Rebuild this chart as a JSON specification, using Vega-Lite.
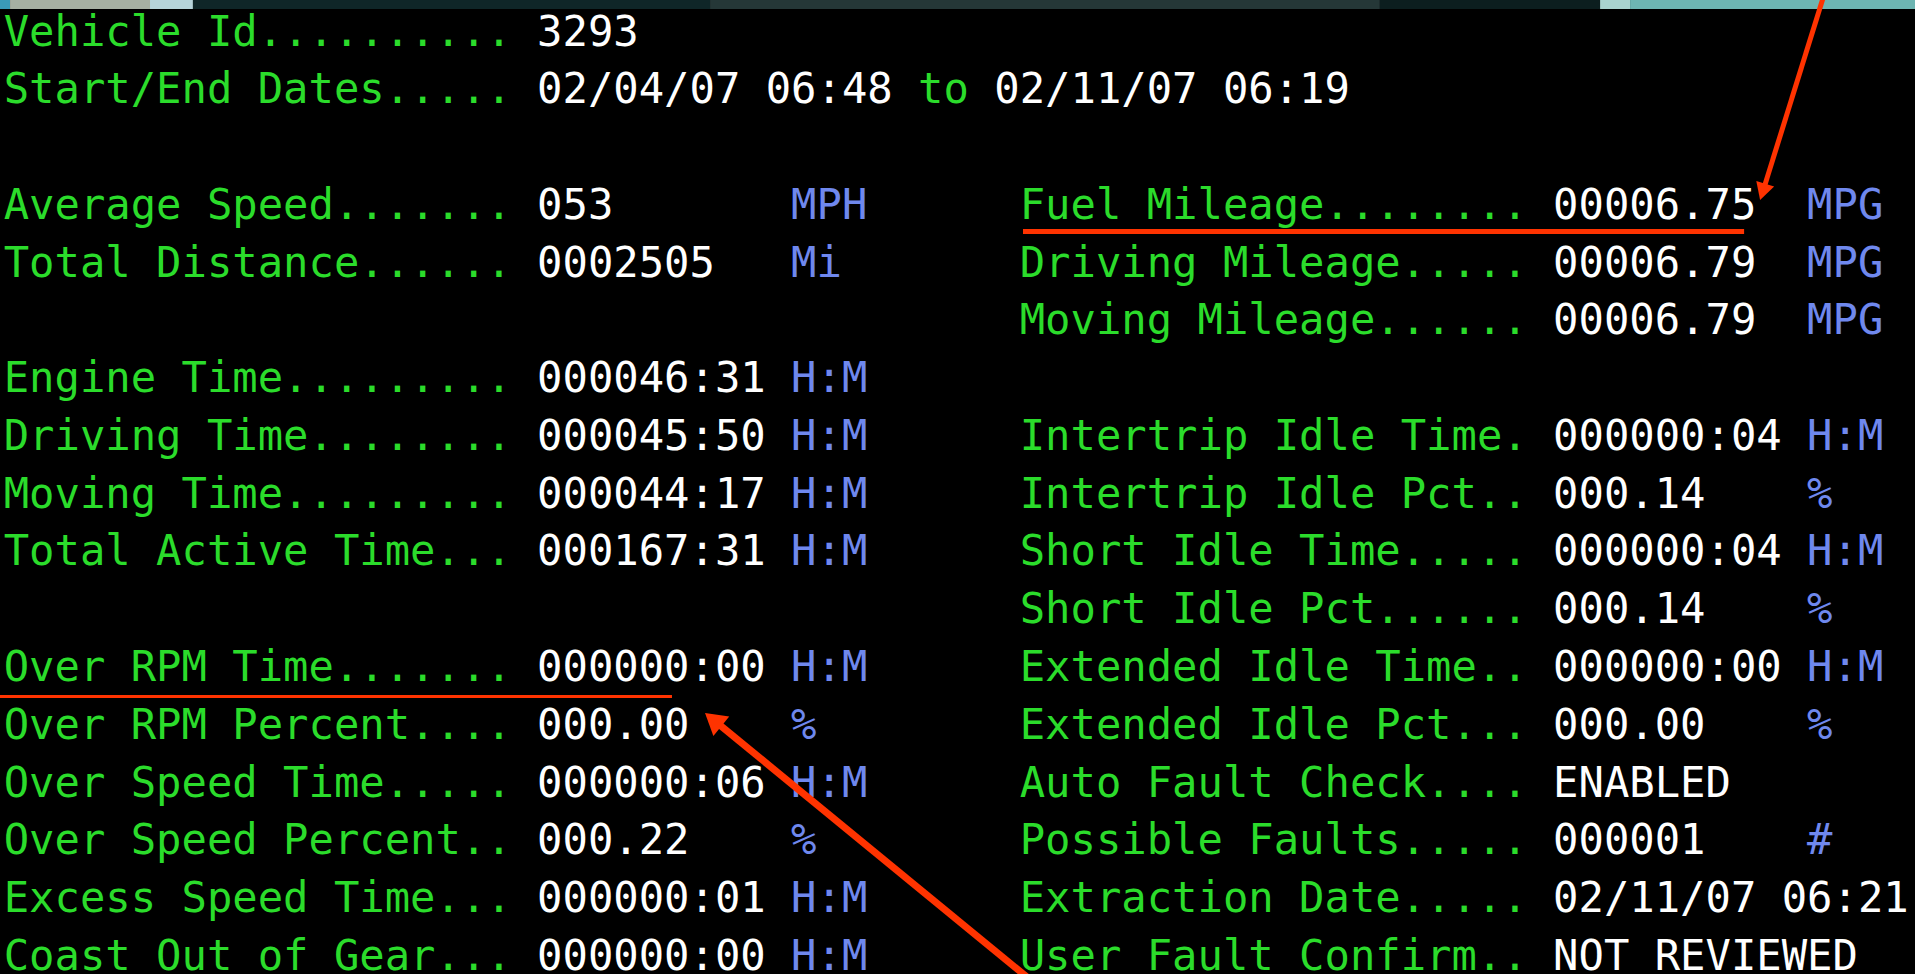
{
  "$schema": "https://vega.github.io/schema/vega-lite/v6.json",
  "width": 1915,
  "height": 974,
  "autosize": {"type": "none"},
  "padding": 0,
  "background": "#000000",
  "config": {"view": {"stroke": null}, "axis": {"disable": true}},
  "datasets": {
    "cells": [
      {"row": 0, "col": 0, "kind": "label", "text": "Vehicle Id.........."},
      {"row": 1, "col": 0, "kind": "label", "text": "Start/End Dates....."},
      {"row": 3, "col": 0, "kind": "label", "text": "Average Speed......."},
      {"row": 4, "col": 0, "kind": "label", "text": "Total Distance......"},
      {"row": 6, "col": 0, "kind": "label", "text": "Engine Time........."},
      {"row": 7, "col": 0, "kind": "label", "text": "Driving Time........"},
      {"row": 8, "col": 0, "kind": "label", "text": "Moving Time........."},
      {"row": 9, "col": 0, "kind": "label", "text": "Total Active Time..."},
      {"row": 11, "col": 0, "kind": "label", "text": "Over RPM Time......."},
      {"row": 12, "col": 0, "kind": "label", "text": "Over RPM Percent...."},
      {"row": 13, "col": 0, "kind": "label", "text": "Over Speed Time....."},
      {"row": 14, "col": 0, "kind": "label", "text": "Over Speed Percent.."},
      {"row": 15, "col": 0, "kind": "label", "text": "Excess Speed Time..."},
      {"row": 16, "col": 0, "kind": "label", "text": "Coast Out of Gear..."},
      {"row": 1, "col": 36, "kind": "label", "text": "to"},
      {"row": 3, "col": 40, "kind": "label", "text": "Fuel Mileage........"},
      {"row": 4, "col": 40, "kind": "label", "text": "Driving Mileage....."},
      {"row": 5, "col": 40, "kind": "label", "text": "Moving Mileage......"},
      {"row": 7, "col": 40, "kind": "label", "text": "Intertrip Idle Time."},
      {"row": 8, "col": 40, "kind": "label", "text": "Intertrip Idle Pct.."},
      {"row": 9, "col": 40, "kind": "label", "text": "Short Idle Time....."},
      {"row": 10, "col": 40, "kind": "label", "text": "Short Idle Pct......"},
      {"row": 11, "col": 40, "kind": "label", "text": "Extended Idle Time.."},
      {"row": 12, "col": 40, "kind": "label", "text": "Extended Idle Pct..."},
      {"row": 13, "col": 40, "kind": "label", "text": "Auto Fault Check...."},
      {"row": 14, "col": 40, "kind": "label", "text": "Possible Faults....."},
      {"row": 15, "col": 40, "kind": "label", "text": "Extraction Date....."},
      {"row": 16, "col": 40, "kind": "label", "text": "User Fault Confirm.."},
      {"row": 0, "col": 21, "kind": "value", "text": "3293"},
      {"row": 1, "col": 21, "kind": "value", "text": "02/04/07 06:48"},
      {"row": 1, "col": 39, "kind": "value", "text": "02/11/07 06:19"},
      {"row": 3, "col": 21, "kind": "value", "text": "053"},
      {"row": 4, "col": 21, "kind": "value", "text": "0002505"},
      {"row": 6, "col": 21, "kind": "value", "text": "000046:31"},
      {"row": 7, "col": 21, "kind": "value", "text": "000045:50"},
      {"row": 8, "col": 21, "kind": "value", "text": "000044:17"},
      {"row": 9, "col": 21, "kind": "value", "text": "000167:31"},
      {"row": 11, "col": 21, "kind": "value", "text": "000000:00"},
      {"row": 12, "col": 21, "kind": "value", "text": "000.00"},
      {"row": 13, "col": 21, "kind": "value", "text": "000000:06"},
      {"row": 14, "col": 21, "kind": "value", "text": "000.22"},
      {"row": 15, "col": 21, "kind": "value", "text": "000000:01"},
      {"row": 16, "col": 21, "kind": "value", "text": "000000:00"},
      {"row": 3, "col": 61, "kind": "value", "text": "00006.75"},
      {"row": 4, "col": 61, "kind": "value", "text": "00006.79"},
      {"row": 5, "col": 61, "kind": "value", "text": "00006.79"},
      {"row": 7, "col": 61, "kind": "value", "text": "000000:04"},
      {"row": 8, "col": 61, "kind": "value", "text": "000.14"},
      {"row": 9, "col": 61, "kind": "value", "text": "000000:04"},
      {"row": 10, "col": 61, "kind": "value", "text": "000.14"},
      {"row": 11, "col": 61, "kind": "value", "text": "000000:00"},
      {"row": 12, "col": 61, "kind": "value", "text": "000.00"},
      {"row": 13, "col": 61, "kind": "value", "text": "ENABLED"},
      {"row": 14, "col": 61, "kind": "value", "text": "000001"},
      {"row": 15, "col": 61, "kind": "value", "text": "02/11/07 06:21"},
      {"row": 16, "col": 61, "kind": "value", "text": "NOT REVIEWED"},
      {"row": 3, "col": 31, "kind": "unit", "text": "MPH"},
      {"row": 4, "col": 31, "kind": "unit", "text": "Mi"},
      {"row": 6, "col": 31, "kind": "unit", "text": "H:M"},
      {"row": 7, "col": 31, "kind": "unit", "text": "H:M"},
      {"row": 8, "col": 31, "kind": "unit", "text": "H:M"},
      {"row": 9, "col": 31, "kind": "unit", "text": "H:M"},
      {"row": 11, "col": 31, "kind": "unit", "text": "H:M"},
      {"row": 12, "col": 31, "kind": "unit", "text": "%"},
      {"row": 13, "col": 31, "kind": "unit", "text": "H:M"},
      {"row": 14, "col": 31, "kind": "unit", "text": "%"},
      {"row": 15, "col": 31, "kind": "unit", "text": "H:M"},
      {"row": 16, "col": 31, "kind": "unit", "text": "H:M"},
      {"row": 3, "col": 71, "kind": "unit", "text": "MPG"},
      {"row": 4, "col": 71, "kind": "unit", "text": "MPG"},
      {"row": 5, "col": 71, "kind": "unit", "text": "MPG"},
      {"row": 7, "col": 71, "kind": "unit", "text": "H:M"},
      {"row": 8, "col": 71, "kind": "unit", "text": "%"},
      {"row": 9, "col": 71, "kind": "unit", "text": "H:M"},
      {"row": 10, "col": 71, "kind": "unit", "text": "%"},
      {"row": 11, "col": 71, "kind": "unit", "text": "H:M"},
      {"row": 12, "col": 71, "kind": "unit", "text": "%"},
      {"row": 14, "col": 71, "kind": "unit", "text": "#"}
    ],
    "strip": [
      {"seg": "s1", "x": -0.15, "x2": 0.25, "y": -0.53, "y2": -0.372},
      {"seg": "s2", "x": 0.25, "x2": 5.76, "y": -0.53, "y2": -0.372},
      {"seg": "s3", "x": 5.76, "x2": 7.45, "y": -0.53, "y2": -0.372},
      {"seg": "s4", "x": 7.45, "x2": 27.81, "y": -0.53, "y2": -0.372},
      {"seg": "s5", "x": 27.81, "x2": 54.18, "y": -0.53, "y2": -0.372},
      {"seg": "s6", "x": 54.18, "x2": 62.85, "y": -0.53, "y2": -0.372},
      {"seg": "s7", "x": 62.85, "x2": 64.03, "y": -0.53, "y2": -0.372},
      {"seg": "s8", "x": 64.03, "x2": 75.3, "y": -0.53, "y2": -0.372}
    ],
    "lines": [
      {"id": "u1", "x": 40.13, "y": 3.479, "x2": 68.52, "y2": 3.479},
      {"id": "a1", "x": 71.62, "y": -0.55, "x2": 69.27, "y2": 2.77},
      {"id": "u2", "x": -0.15, "y": 11.528, "x2": 26.31, "y2": 11.528},
      {"id": "a2", "x": 40.33, "y": 16.4, "x2": 27.95, "y2": 11.934}
    ],
    "heads": [
      {"id": "a1", "x": 69.15, "y": 2.934},
      {"id": "a2", "x": 27.61, "y": 11.814}
    ]
  },
  "encoding": {
    "x": {"field": "x", "type": "quantitative", "scale": {"domain": [-0.1457, 75.248], "nice": false, "zero": false}, "axis": null},
    "y": {"field": "y", "type": "quantitative", "scale": {"domain": [-0.528, 16.332], "nice": false, "zero": false, "reverse": true}, "axis": null}
  },
  "layer": [
    {
      "data": {"name": "strip"},
      "mark": {"type": "rect", "clip": true},
      "encoding": {
        "x2": {"field": "x2"},
        "y2": {"field": "y2"},
        "color": {"field": "seg", "type": "nominal", "legend": null,
          "scale": {"domain": ["s1", "s2", "s3", "s4", "s5", "s6", "s7", "s8"],
                    "range": ["#3a9ab8", "#a6b0a2", "#b6d4da", "#0f2628", "#253737", "#0c1e1f", "#a9d3cf", "#6db5b2"]}}
      }
    },
    {
      "data": {"name": "cells"},
      "transform": [{"filter": "datum.kind === 'label'"}, {"calculate": "datum.col", "as": "x"}, {"calculate": "datum.row", "as": "y"}],
      "mark": {"type": "text", "align": "left", "baseline": "alphabetic", "dy": 15, "font": "DejaVu Sans Mono", "fontSize": 42.2, "color": "#2bdc2b"},
      "encoding": {"text": {"field": "text"}}
    },
    {
      "data": {"name": "cells"},
      "transform": [{"filter": "datum.kind === 'value'"}, {"calculate": "datum.col", "as": "x"}, {"calculate": "datum.row", "as": "y"}],
      "mark": {"type": "text", "align": "left", "baseline": "alphabetic", "dy": 15, "font": "DejaVu Sans Mono", "fontSize": 42.2, "color": "#ffffff"},
      "encoding": {"text": {"field": "text"}}
    },
    {
      "data": {"name": "cells"},
      "transform": [{"filter": "datum.kind === 'unit'"}, {"calculate": "datum.col", "as": "x"}, {"calculate": "datum.row", "as": "y"}],
      "mark": {"type": "text", "align": "left", "baseline": "alphabetic", "dy": 15, "font": "DejaVu Sans Mono", "fontSize": 42.2, "color": "#6f88ee"},
      "encoding": {"text": {"field": "text"}}
    },
    {
      "data": {"name": "lines"},
      "transform": [{"filter": "datum.id === 'u1' || datum.id === 'a1'"}],
      "mark": {"type": "rule", "color": "#ff3300", "strokeWidth": 5, "clip": true},
      "encoding": {"x2": {"field": "x2"}, "y2": {"field": "y2"}}
    },
    {
      "data": {"name": "lines"},
      "transform": [{"filter": "datum.id === 'u2'"}],
      "mark": {"type": "rule", "color": "#ff3300", "strokeWidth": 3, "clip": true},
      "encoding": {"x2": {"field": "x2"}, "y2": {"field": "y2"}}
    },
    {
      "data": {"name": "lines"},
      "transform": [{"filter": "datum.id === 'a2'"}],
      "mark": {"type": "rule", "color": "#ff3300", "strokeWidth": 7, "clip": true},
      "encoding": {"x2": {"field": "x2"}, "y2": {"field": "y2"}}
    },
    {
      "data": {"name": "heads"},
      "transform": [{"filter": "datum.id === 'a1'"}],
      "mark": {"type": "point", "shape": "M0,0L-0.55,1L0.55,1Z", "filled": true, "color": "#ff3300", "opacity": 1, "strokeWidth": 0, "size": 1156, "angle": 197.5},
      "encoding": {}
    },
    {
      "data": {"name": "heads"},
      "transform": [{"filter": "datum.id === 'a2'"}],
      "mark": {"type": "point", "shape": "M0,0L-0.6,1L0.6,1Z", "filled": true, "color": "#ff3300", "opacity": 1, "strokeWidth": 0, "size": 1764, "angle": 309},
      "encoding": {}
    }
  ]
}
